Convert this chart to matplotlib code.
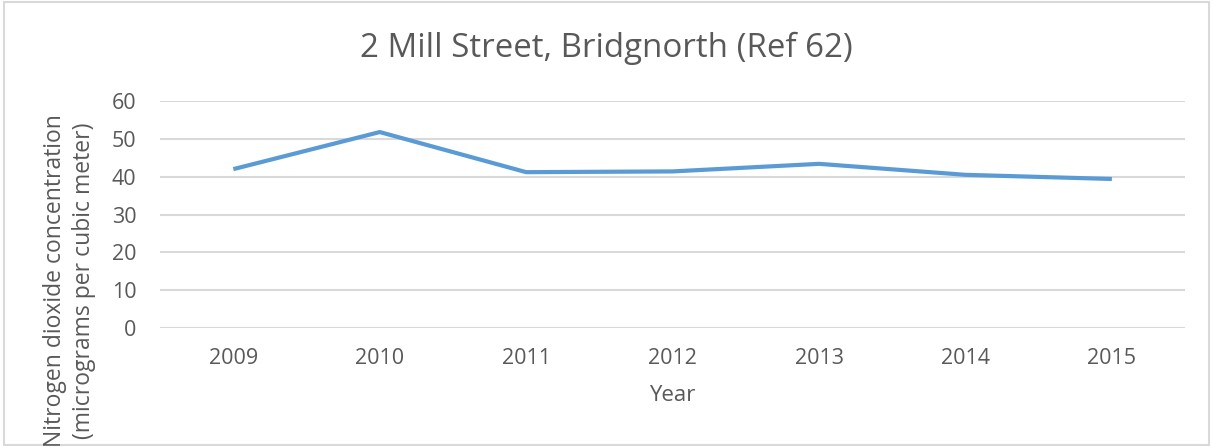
import matplotlib.pyplot as plt
from matplotlib.patches import Rectangle

# data
years = ["2009", "2010", "2011", "2012", "2013", "2014", "2015"]
no2 = [42.0, 51.8, 41.2, 41.4, 43.4, 40.5, 39.4]
yticks = [0, 10, 20, 30, 40, 50, 60]

plt.rcParams['font.family'] = ['Open Sans', 'DejaVu Sans']
grey = '#595959'

fig = plt.figure(figsize=(12.13, 4.47), dpi=100)
ax = fig.add_axes([0.132, 0.266, 0.845, 0.508])

x = range(len(years))
ax.plot(x, no2, color='#5B9BD5', lw=3, solid_capstyle='butt')

ax.set_xlim(-0.5, len(years) - 0.5)
ax.set_ylim(0, 60)
ax.set_yticks(yticks)
ax.set_xticks(list(x))
ax.set_xticklabels(years)
ax.yaxis.grid(True, color='#d9d9d9', lw=1.5)
ax.set_axisbelow(True)
for s in ax.spines.values():
    s.set_visible(False)
ax.tick_params(length=0, colors=grey, labelsize=15.5)
ax.tick_params(axis='y', pad=17)
ax.tick_params(axis='x', pad=14)

ax.set_xlabel("Year", color=grey, fontsize=16, labelpad=12)
fig.text(0.0575, 0.372, "Nitrogen dioxide concentration\n(micrograms per cubic meter)",
         rotation=90, ha='center', va='center', color=grey, fontsize=16.5,
         linespacing=1.3)

fig.suptitle("2 Mill Street, Bridgnorth (Ref 62)", x=0.5, y=0.928, color=grey,
             fontsize=23.8)

# chart border
fig.patches.append(Rectangle((0.003, 0.005), 0.994, 0.99, transform=fig.transFigure,
                             fill=False, edgecolor='#d9d9d9', lw=1.5))

fig.savefig("out.png", dpi=100)
